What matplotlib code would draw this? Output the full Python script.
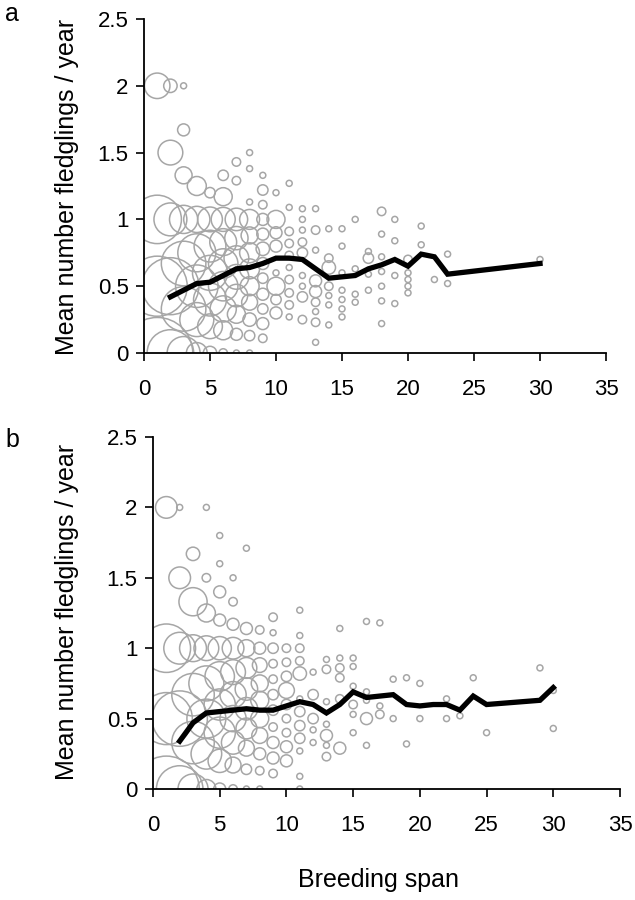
import matplotlib
matplotlib.use("Agg")
import matplotlib.pyplot as plt
import numpy as np

plt.rcParams['font.family'] = ['Liberation Sans', 'DejaVu Sans']

# ---------------- Panel a data ----------------
# bubbles: breeding span, mean fledglings/year, number of birds
a_x = [1, 1, 1, 1,
       2, 2, 2, 2, 2,
       3, 3, 3, 3, 3, 3, 3,
       4, 4, 4, 4, 4, 4,
       5, 5, 5, 5, 5, 5, 5,
       6, 6, 6, 6, 6, 6, 6, 6, 6,
       7, 7, 7, 7, 7, 7, 7, 7, 7, 7,
       8, 8, 8, 8, 8, 8, 8, 8, 8, 8, 8, 8,
       9, 9, 9, 9, 9, 9, 9, 9, 9, 9, 9, 9,
       10, 10, 10, 10, 10, 10, 10, 10,
       11, 11, 11, 11, 11, 11, 11, 11, 11, 11,
       12, 12, 12, 12, 12, 12, 12, 12, 12,
       13, 13, 13, 13, 13, 13, 13, 13, 13,
       14, 14, 14, 14, 14, 14, 14,
       15, 15, 15, 15, 15, 15, 15,
       16, 16, 16, 16,
       17, 17, 17, 17,
       18, 18, 18, 18, 18, 18, 18,
       19, 19, 19, 19,
       20, 20, 20, 20, 20,
       21, 21, 22, 23, 23, 30]
a_y = [2.0, 1.0, 0.5, 0.0,
       2.0, 1.5, 1.0, 0.5, 0.0,
       2.0, 1.67, 1.33, 1.0, 0.67, 0.33, 0.0,
       1.25, 1.0, 0.75, 0.5, 0.25, 0.0,
       1.2, 1.0, 0.8, 0.6, 0.4, 0.2, 0.0,
       1.33, 1.17, 1.0, 0.83, 0.67, 0.5, 0.33, 0.17, 0.0,
       1.43, 1.29, 1.0, 0.86, 0.71, 0.57, 0.43, 0.29, 0.14, 0.0,
       1.5, 1.38, 1.13, 1.0, 0.88, 0.75, 0.63, 0.5, 0.38, 0.25, 0.13, 0.0,
       1.33, 1.22, 1.11, 1.0, 0.89, 0.78, 0.67, 0.56, 0.44, 0.33, 0.22, 0.11,
       1.2, 1.0, 0.9, 0.8, 0.6, 0.5, 0.4, 0.3,
       1.27, 1.09, 0.91, 0.82, 0.73, 0.64, 0.55, 0.45, 0.36, 0.27,
       1.08, 1.0, 0.92, 0.83, 0.75, 0.58, 0.5, 0.42, 0.25,
       1.08, 0.92, 0.77, 0.54, 0.46, 0.38, 0.31, 0.23, 0.08,
       0.93, 0.71, 0.64, 0.5, 0.43, 0.36, 0.21,
       0.93, 0.8, 0.6, 0.47, 0.4, 0.33, 0.27,
       1.0, 0.63, 0.44, 0.38,
       0.76, 0.71, 0.59, 0.47,
       1.06, 0.89, 0.72, 0.61, 0.5, 0.39, 0.22,
       1.0, 0.84, 0.58, 0.37,
       0.7, 0.6, 0.55, 0.5, 0.45,
       0.95, 0.81, 0.55, 0.74, 0.52, 0.7]
a_n = [18, 65, 100, 140,
       5, 17, 30, 90, 60,
       1, 4, 8, 22, 55, 55, 30,
       10, 19, 40, 50, 32, 12,
       3, 17, 28, 34, 30, 17, 5,
       3, 9, 16, 20, 24, 24, 19, 10, 2,
       2, 2, 14, 15, 17, 17, 14, 9, 4, 1,
       1, 1, 1, 11, 8, 11, 11, 10, 7, 5, 3, 1,
       1, 3, 2, 4, 4, 5, 4, 3, 4, 3, 4, 2,
       1, 9, 4, 4, 1, 9, 3, 4,
       1, 1, 2, 2, 2, 1, 2, 2, 2, 1,
       1, 1, 1, 2, 3, 1, 1, 3, 2,
       1, 2, 1, 4, 4, 2, 1, 2, 1,
       1, 2, 5, 2, 1, 1, 1,
       1, 1, 1, 1, 1, 1, 1,
       1, 1, 1, 1,
       1, 3, 1, 1,
       2, 1, 1, 1, 1, 1, 1,
       1, 1, 1, 1,
       2, 1, 1, 1, 1,
       1, 1, 1, 1, 1, 1]

# mean line, panel a
a_line_x = [2, 3, 4, 5, 6, 7, 8, 9, 10, 11, 12, 13, 14, 15, 16, 17, 18, 19, 20, 21, 22, 23, 30]
a_line_y = [0.42, 0.47, 0.52, 0.53, 0.58, 0.63, 0.64, 0.67, 0.71, 0.71, 0.70, 0.63, 0.56,
            0.57, 0.58, 0.63, 0.66, 0.70, 0.65, 0.74, 0.72, 0.59, 0.67]

# ---------------- Panel b data ----------------
b_x = [1, 1, 1, 1,
       2, 2, 2, 2, 2,
       3, 3, 3, 3, 3, 3,
       4, 4, 4, 4, 4, 4, 4, 4,
       5, 5, 5, 5, 5, 5, 5, 5, 5, 5,
       6, 6, 6, 6, 6, 6, 6, 6, 6, 6,
       7, 7, 7, 7, 7, 7, 7, 7, 7, 7,
       8, 8, 8, 8, 8, 8, 8, 8, 8, 8,
       9, 9, 9, 9, 9, 9, 9, 9, 9, 9, 9,
       10, 10, 10, 10, 10, 10, 10, 10, 10,
       11, 11, 11, 11, 11, 11, 11, 11, 11, 11, 11, 11,
       12, 12, 12, 12, 12,
       13, 13, 13, 13, 13, 13, 13,
       14, 14, 14, 14, 14, 14,
       15, 15, 15, 15, 15, 15,
       16, 16, 16, 16, 16,
       17, 17, 17,
       18, 18, 19, 19, 20, 20, 22, 22, 23, 24, 25, 29, 30, 30]
b_y = [2.0, 1.0, 0.5, 0.0,
       2.0, 1.5, 1.0, 0.5, 0.0,
       1.67, 1.33, 1.0, 0.67, 0.33, 0.0,
       2.0, 1.5, 1.25, 1.0, 0.75, 0.5, 0.25, 0.0,
       1.8, 1.6, 1.4, 1.2, 1.0, 0.8, 0.6, 0.4, 0.2, 0.0,
       1.5, 1.33, 1.17, 1.0, 0.83, 0.67, 0.5, 0.33, 0.17, 0.0,
       1.71, 1.14, 1.0, 0.86, 0.71, 0.57, 0.43, 0.29, 0.14, 0.0,
       1.13, 1.0, 0.88, 0.75, 0.63, 0.5, 0.38, 0.25, 0.13, 0.0,
       1.22, 1.11, 1.0, 0.89, 0.78, 0.67, 0.56, 0.44, 0.33, 0.22, 0.11,
       1.0, 0.9, 0.8, 0.7, 0.6, 0.5, 0.4, 0.3, 0.2,
       1.27, 1.09, 1.0, 0.91, 0.82, 0.64, 0.55, 0.45, 0.36, 0.27, 0.09, 0.0,
       0.83, 0.67, 0.5, 0.42, 0.33,
       0.92, 0.85, 0.62, 0.46, 0.38, 0.31, 0.23,
       1.14, 0.93, 0.86, 0.79, 0.64, 0.29,
       0.93, 0.87, 0.73, 0.6, 0.53, 0.4,
       1.19, 0.69, 0.63, 0.5, 0.31,
       1.18, 0.59, 0.53,
       0.78, 0.5, 0.79, 0.32, 0.75, 0.5, 0.64, 0.5, 0.52, 0.79, 0.4, 0.86, 0.7, 0.43]
b_n = [13, 65, 75, 120,
       1, 13, 28, 85, 60,
       5, 22, 20, 50, 50, 25,
       1, 2, 9, 17, 34, 42, 26, 10,
       1, 1, 4, 4, 15, 24, 27, 27, 15, 4,
       1, 2, 4, 13, 17, 19, 19, 15, 7, 2,
       1, 4, 8, 12, 14, 14, 12, 7, 3, 1,
       2, 4, 6, 8, 9, 9, 7, 4, 2, 1,
       2, 1, 3, 2, 2, 3, 3, 2, 4, 4, 2,
       2, 2, 3, 7, 3, 2, 2, 4, 4,
       1, 1, 2, 2, 5, 1, 3, 3, 3, 1, 1, 1,
       1, 3, 3, 1, 1,
       1, 2, 1, 1, 4, 1, 2,
       1, 1, 2, 2, 2, 4,
       1, 1, 1, 2, 1, 1,
       1, 1, 1, 4, 1,
       1, 1, 2,
       1, 1, 1, 1, 1, 1, 1, 1, 1, 1, 1, 1, 1, 1]

b_line_x = [2, 3, 4, 5, 6, 7, 8, 9, 10, 11, 12, 13, 14, 15, 16, 17, 18, 19, 20, 21, 22, 23, 24, 25, 29, 30]
b_line_y = [0.34, 0.47, 0.54, 0.55, 0.56, 0.57, 0.56, 0.56, 0.59, 0.62, 0.60, 0.54, 0.60,
            0.69, 0.65, 0.66, 0.67, 0.60, 0.59, 0.60, 0.60, 0.56, 0.66, 0.60, 0.63, 0.72]

x_ticks = [0, 5, 10, 15, 20, 25, 30, 35]
y_ticks = [0, 0.5, 1, 1.5, 2, 2.5]
y_ticklabels = ["0", "0.5", "1", "1.5", "2", "2.5"]

BUBBLE_GREY = "#a6a6a6"
SIZE_PER_BIRD = 18.7  # points^2 per bird

fig = plt.figure(figsize=(6.35, 9.0), dpi=100)
ax_a = fig.add_axes([144 / 635, 1 - 353 / 900, 462 / 635, 334 / 900])
ax_b = fig.add_axes([153 / 635, 1 - 789 / 900, 467 / 635, 352 / 900])


def draw(ax, bx, by, bn, lx, ly):
    ax.scatter(bx, by, s=np.array(bn) * SIZE_PER_BIRD, facecolors="none",
               edgecolors=BUBBLE_GREY, linewidths=1.1, zorder=2)
    ax.plot(lx, ly, color="black", lw=3.8, solid_joinstyle="miter", zorder=3)
    ax.set_xlim(0, 35)
    ax.set_ylim(0, 2.5)
    ax.set_xticks(x_ticks)
    ax.set_yticks(y_ticks)
    ax.set_yticklabels(y_ticklabels)
    for s in ["top", "right"]:
        ax.spines[s].set_visible(False)
    for s in ["left", "bottom"]:
        ax.spines[s].set_linewidth(1.3)
        ax.spines[s].set_color("black")
    ax.tick_params(axis="both", direction="out", length=6, width=1.2,
                   labelsize=16, color="black")
    ax.tick_params(axis="x", pad=13)
    ax.tick_params(axis="y", pad=5)


draw(ax_a, a_x, a_y, a_n, a_line_x, a_line_y)
draw(ax_b, b_x, b_y, b_n, b_line_x, b_line_y)

fig.text(67 / 635, 1 - 187 / 900, "Mean number fledglings / year", rotation=90,
         ha="center", va="center", fontsize=18)
fig.text(67 / 635, 1 - 612 / 900, "Mean number fledglings / year", rotation=90,
         ha="center", va="center", fontsize=18)
fig.text(378 / 635, 1 - 880 / 900, "Breeding span", ha="center", va="center", fontsize=18)
fig.text(12 / 635, 1 - 14 / 900, "a", ha="center", va="center", fontsize=18)
fig.text(12 / 635, 1 - 440 / 900, "b", ha="center", va="center", fontsize=18)

fig.savefig("out.png", dpi=100, facecolor="white")
